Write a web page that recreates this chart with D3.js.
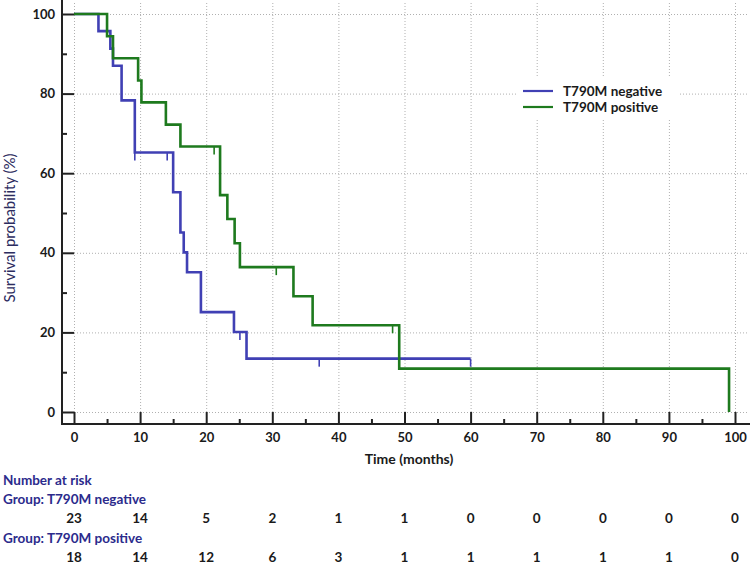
<!DOCTYPE html>
<html><head><meta charset="utf-8">
<script src="https://cdn.jsdelivr.net/npm/d3@7"></script>
<style>
body{margin:0;background:#fff;}
svg{display:block;font-family:Lato,"Open Sans",sans-serif;}
</style></head>
<body><svg id="c" width="750" height="563"></svg>
<script>
// ---- data ----
const seriesNames = ["T790M negative", "T790M positive"];
const negTimes = [0, 3.7, 5.5, 5.9, 7.2, 9.2, 15.0, 16.1, 16.6, 17.1, 19.2, 24.2, 26.1, 60];
const negSurv  = [100, 95.7, 91.3, 87.0, 78.3, 65.2, 55.2, 45.1, 40.1, 35.1, 25.1, 20.1, 13.4, 13.4];
const negCensor = [9.2, 14.1, 25.1, 37.1, 60];
const posTimes = [0, 5.0, 5.9, 9.7, 10.2, 13.9, 16.1, 22.1, 23.2, 24.3, 25.1, 33.2, 36.1, 49.2, 99.1, 99.1];
const posSurv  = [100, 94.4, 88.9, 83.3, 77.8, 72.2, 66.7, 54.5, 48.5, 42.4, 36.4, 29.1, 21.8, 10.9, 10.9, 0];
const posCensor = [21.2, 30.6, 48.2];
const xTicks = [0,10,20,30,40,50,60,70,80,90,100];
const xMinor = [5,15,25,35,45,55,65,75,85,95];
const yTicks = [0,20,40,60,80,100];
const yMinor = [10,30,50,70,90];
const riskTimes = [0,10,20,30,40,50,60,70,80,90,100];
const riskNeg = [23,14,5,2,1,1,0,0,0,0,0];
const riskPos = [18,14,12,6,3,1,1,1,1,1,0];
const colors = ["#4040b4", "#1e7a1e"];

const svg = d3.select("#c");
const x = d3.scaleLinear().domain([0,100]).range([74,735]);
const y = d3.scaleLinear().domain([0,100]).range([412,14]);
const axisX = 62, axisY = 424;

// grid
const grid = svg.append("g").attr("stroke","#b0b0b0").attr("stroke-width",1).attr("stroke-dasharray","1,2");
grid.selectAll("line.v").data(xTicks).join("line")
  .attr("x1",d=>x(d)+0.5).attr("x2",d=>x(d)+0.5).attr("y1",3).attr("y2",y(0));
grid.selectAll("line.h").data(yTicks).join("line")
  .attr("y1",d=>y(d)+0.5).attr("y2",d=>y(d)+0.5).attr("x1",x(0)).attr("x2",748);

// axes
const fontTick = "bold 13px Lato, 'Open Sans', sans-serif";
const gx = svg.append("g").attr("transform",`translate(0,${axisY})`)
  .call(d3.axisBottom(x).tickValues(xTicks).tickSize(-12).tickPadding(9).tickSizeOuter(0));
const gxm = svg.append("g").attr("transform",`translate(0,${axisY})`)
  .call(d3.axisBottom(x).tickValues(xMinor).tickSize(-5).tickFormat("").tickSizeOuter(0));
const gy = svg.append("g").attr("transform",`translate(${axisX},0)`)
  .call(d3.axisLeft(y).tickValues(yTicks).tickSize(-12).tickPadding(7).tickSizeOuter(0));
const gym = svg.append("g").attr("transform",`translate(${axisX},0)`)
  .call(d3.axisLeft(y).tickValues(yMinor).tickSize(-5).tickFormat("").tickSizeOuter(0));
[gx,gxm,gy,gym].forEach(g=>{
  g.select(".domain").remove();
  g.selectAll(".tick line").attr("stroke","#222").attr("stroke-width",2);
  g.selectAll(".tick text").attr("fill","#1a1a1a").style("font",fontTick);
});
svg.append("line").attr("x1",axisX).attr("x2",axisX).attr("y1",0).attr("y2",axisY+1)
  .attr("stroke","#222").attr("stroke-width",2);
svg.append("line").attr("x1",axisX-1).attr("x2",750).attr("y1",axisY).attr("y2",axisY)
  .attr("stroke","#222").attr("stroke-width",2);

// axis titles
svg.append("text").attr("x",409).attr("y",464).attr("text-anchor","middle")
  .attr("fill","#1a1a1a").style("font","bold 14px Lato, 'Open Sans', sans-serif").text("Time (months)");
svg.append("text").attr("transform","translate(15,228) rotate(-90)").attr("text-anchor","middle")
  .attr("fill","#2c2c60").style("font","15px Lato, 'Open Sans', sans-serif").text("Survival probability (%)");

// curves
const stepLine = d3.line().curve(d3.curveStepAfter).x(d=>x(d[0])).y(d=>y(d[1]));
function drawSeries(times, surv, censor, color){
  const pts = times.map((t,i)=>[t,surv[i]]);
  svg.append("path").attr("d",stepLine(pts)).attr("fill","none")
    .attr("stroke",color).attr("stroke-width",2.6).attr("stroke-linejoin","miter");
  const survAt = t => { let s = surv[0]; for(let i=0;i<times.length;i++){ if(times[i]<=t) s=surv[i]; } return s; };
  svg.append("g").selectAll("line").data(censor).join("line")
    .attr("x1",d=>x(d)).attr("x2",d=>x(d)).attr("y1",d=>y(survAt(d))).attr("y2",d=>y(survAt(d))+8)
    .attr("stroke",color).attr("stroke-width",1.6);
}
drawSeries(negTimes,negSurv,negCensor,colors[0]);
drawSeries(posTimes,posSurv,posCensor,colors[1]);

// legend
const lg = svg.append("g");
lg.append("rect").attr("x",517).attr("y",77).attr("width",163).attr("height",43).attr("fill","#fff");
seriesNames.forEach((n,i)=>{
  const ly = 91 + i*16;
  lg.append("line").attr("x1",523).attr("x2",553).attr("y1",ly).attr("y2",ly)
    .attr("stroke",colors[i]).attr("stroke-width",2.2);
  lg.append("text").attr("x",563).attr("y",ly+5).attr("fill","#1a1a1a")
    .style("font","bold 13.5px Lato, 'Open Sans', sans-serif").text(n);
});

// number at risk
const navy = "#2b2b8c";
const fRisk = "bold 13.5px Lato, 'Open Sans', sans-serif";
svg.append("text").attr("x",3).attr("y",485).attr("fill",navy).style("font",fRisk).text("Number at risk");
svg.append("text").attr("x",3).attr("y",504).attr("fill",navy).style("font",fRisk).text("Group: " + seriesNames[0]);
svg.append("text").attr("x",3).attr("y",542.5).attr("fill",navy).style("font",fRisk).text("Group: " + seriesNames[1]);
svg.append("g").selectAll("text").data(riskNeg).join("text")
  .attr("x",(d,i)=>x(riskTimes[i])).attr("y",523).attr("text-anchor","middle")
  .attr("fill","#1a1a1a").style("font",fRisk).text(d=>d);
svg.append("g").selectAll("text").data(riskPos).join("text")
  .attr("x",(d,i)=>x(riskTimes[i])).attr("y",561.5).attr("text-anchor","middle")
  .attr("fill","#1a1a1a").style("font",fRisk).text(d=>d);
</script></body></html>
